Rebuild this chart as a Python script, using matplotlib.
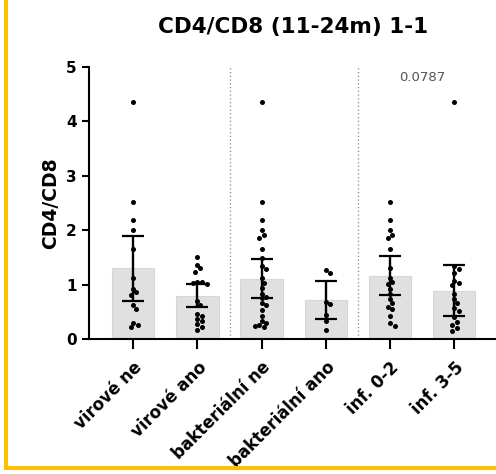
import numpy as np
import matplotlib
matplotlib.use("Agg")
import matplotlib.pyplot as plt
from matplotlib.lines import Line2D

# ---------------- data ----------------
categories = ["virové ne", "virové ano", "bakteriální ne", "bakteriální ano", "inf. 0-2", "inf. 3-5"]
bar_means = [1.30, 0.80, 1.11, 0.73, 1.17, 0.89]
err_low = [0.71, 0.59, 0.76, 0.37, 0.81, 0.42]
err_high = [1.89, 1.01, 1.48, 1.07, 1.53, 1.37]

pts_virove_ne = [4.35, 2.51, 2.19, 2.00, 1.65, 1.13, 0.93, 0.86, 0.82, 0.63, 0.55, 0.30, 0.27, 0.23]
pts_virove_ano = [1.51, 1.37, 1.30, 1.24, 1.06, 1.05, 1.04, 1.02, 0.70, 0.63, 0.47, 0.42, 0.37, 0.33,
                  0.28, 0.22, 0.17]
pts_bakt_ne = [4.35, 2.51, 2.19, 2.00, 1.92, 1.86, 1.65, 1.49, 1.35, 1.29, 1.12, 1.04, 0.95, 0.84,
               0.78, 0.75, 0.66, 0.63, 0.54, 0.43, 0.33, 0.29, 0.26, 0.24, 0.22]
pts_bakt_ano = [1.27, 1.22, 0.69, 0.64, 0.45, 0.33, 0.17]
pts_inf_02 = [2.51, 2.19, 2.00, 1.92, 1.86, 1.65, 1.31, 1.13, 1.05, 1.02, 0.93, 0.84, 0.74, 0.66,
              0.60, 0.55, 0.43, 0.30, 0.25]
pts_inf_35 = [4.35, 1.35, 1.29, 1.21, 1.07, 1.03, 1.00, 0.84, 0.74, 0.66, 0.57, 0.51, 0.40, 0.32,
              0.26, 0.20, 0.15]
groups = [pts_virove_ne, pts_virove_ano, pts_bakt_ne, pts_bakt_ano, pts_inf_02, pts_inf_35]

p_label = "0.0787"
title = "CD4/CD8 (11-24m) 1-1"
ylabel = "CD4/CD8"
yticks = [0, 1, 2, 3, 4, 5]

# ---------------- figure ----------------
W, H = 496, 474
fig = plt.figure(figsize=(W / 100, H / 100), dpi=100)
ax_left, ax_right, ax_top, ax_bot = 89.3, 496.0, 66.7, 339.3
ax = fig.add_axes([ax_left / W, 1 - ax_bot / H, (ax_right - ax_left) / W, (ax_bot - ax_top) / H])

x = np.arange(len(categories))
ax.set_xlim(-0.685, 5.65)
ax.set_ylim(0, 5)

ax.bar(x, bar_means, width=0.66, color="#e0e0e0", edgecolor="#d6d6d6", linewidth=0.8, zorder=1)

# separators
for sx in (1.5, 3.5):
    ax.plot([sx, sx], [0, 5], linestyle=(0, (1, 2)), color="#888888", linewidth=0.9, zorder=0.5)

# beeswarm-style offsets in pixel space
d = 4.6
for i, vals in enumerate(groups):
    placed = []
    xs = []
    ys = []
    for v in sorted(vals, reverse=True):
        py = ax.transData.transform((0, v))[1]
        cands = [0]
        for m in range(1, 10):
            cands += [m * d * 0.5, -m * d * 0.5]
        for off in cands:
            if all((off - po) ** 2 + (py - pyy) ** 2 >= (d * 0.95) ** 2 for po, pyy in placed):
                break
        placed.append((off, py))
        px = ax.transData.transform((i, v))[0] + off
        xd = ax.transData.inverted().transform((px, py))[0]
        xs.append(xd)
        ys.append(v)
    ax.scatter(xs, ys, s=13, color="black", zorder=3, linewidths=0)

means = np.array(bar_means)
ax.errorbar(x, means, yerr=[means - np.array(err_low), np.array(err_high) - means],
            fmt="none", ecolor="black", elinewidth=1.7, capsize=8, capthick=1.6, zorder=4)

ax.text(4.5, 4.8, p_label, ha="center", va="center", fontsize=9.5, color="#555555")

# axes styling
for s in ("top", "right"):
    ax.spines[s].set_visible(False)
for s in ("left", "bottom"):
    ax.spines[s].set_linewidth(1.5)
ax.set_yticks(yticks)
ax.set_yticklabels([str(t) for t in yticks], fontsize=11, fontweight="bold")
ax.tick_params(axis="y", length=5, width=1.5, pad=4)
ax.set_xticks(x)
ax.set_xticklabels(categories, fontsize=12, fontweight="bold")
ax.tick_params(axis="x", length=7.5, width=1.5, pad=6)
plt.setp(ax.get_xticklabels(), rotation=45, ha="right", va="top", rotation_mode="anchor")

ax.set_ylabel(ylabel, fontsize=13.5, fontweight="bold", labelpad=4)
ax.set_title(title, fontsize=15.5, fontweight="bold", pad=24)

# yellow frame
fcol = "#FFC000"
fig.add_artist(Line2D([6 / W, 6 / W], [1.0, 1 - 468 / H], color=fcol, linewidth=2.9,
                      transform=fig.transFigure, solid_capstyle="projecting"))
fig.add_artist(Line2D([6 / W, 1.0], [1 - 468 / H, 1 - 468 / H], color=fcol, linewidth=2.9,
                      transform=fig.transFigure, solid_capstyle="projecting"))

fig.savefig("out.png", dpi=100)
